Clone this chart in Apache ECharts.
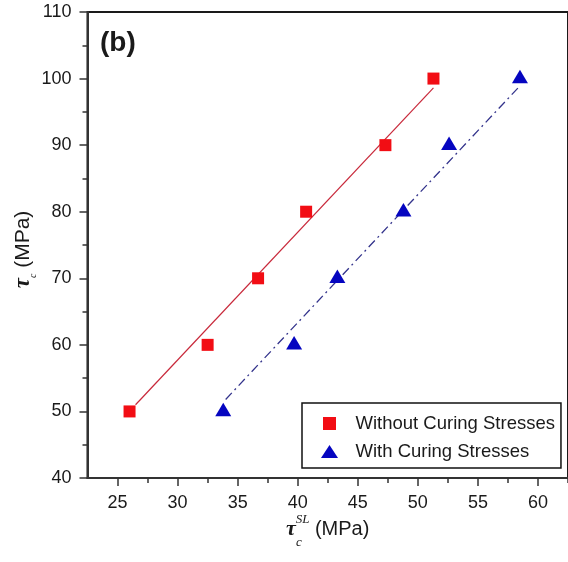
<!DOCTYPE html>
<html>
<head>
<meta charset="utf-8">
<script src="https://cdn.jsdelivr.net/npm/echarts@6/dist/echarts.min.js"></script>
<style>
  html, body { margin: 0; padding: 0; background: #fff; }
  #chart { width: 568px; height: 562px; }
</style>
</head>
<body>
<div id="chart"></div>
<script>
// Shear strength against single-lap shear strength
const shearLevels = [50, 60, 70, 80, 90, 100];

const withoutCuringX = [26.0, 32.5, 36.7, 40.7, 47.3, 51.3];
const withCuringX = [33.8, 39.7, 43.3, 48.8, 52.6, 58.5];

// end points of the two linear fits
const withoutFitX = [26.5, 51.3];
const withoutFitY = [51.0, 98.6];
const withFitX = [34.0, 58.5];
const withFitY = [51.8, 98.9];

const xMajorTicks = [25, 30, 35, 40, 45, 50, 55, 60];
const xMinorTicks = [27.5, 32.5, 37.5, 42.5, 47.5, 52.5, 57.5, 62.5];

const seriesNames = ['Without Curing Stresses', 'With Curing Stresses'];

const pairs = (xs, ys) => xs.map((x, i) => [x, ys[i]]);

const textColor = '#1a1a1a';
const sans = 'Liberation Sans, Arial, sans-serif';
const serif = 'Liberation Serif, Times New Roman, serif';

const chart = echarts.init(document.getElementById('chart'), null, { renderer: 'canvas' });

const xRange = { min: 22.5, max: 62.5 };

chart.setOption({
  animation: false,
  backgroundColor: '#fff',
  title: {
    text: '(b)',
    left: 95,
    top: 24,
    textStyle: { fontFamily: sans, fontSize: 28, fontWeight: 'bold', color: textColor }
  },
  grid: {
    left: 87, top: 12, right: 0, bottom: 84,
    show: true, borderColor: '#1a1a1a', borderWidth: 2, backgroundColor: 'transparent'
  },
  legend: {
    orient: 'vertical',
    left: 302,
    top: 403,
    padding: [11, 6, 7, 19],
    itemWidth: 42,
    itemHeight: 13,
    itemGap: 9,
    borderColor: '#111',
    borderWidth: 1.5,
    backgroundColor: '#fff',
    selectedMode: false,
    symbolKeepAspect: true,
    textStyle: { fontFamily: sans, fontSize: 18.5, lineHeight: 18, color: textColor },
    data: [
      { name: seriesNames[0], icon: 'path://M0,0L12,0L12,12L0,12Z' },
      { name: seriesNames[1], icon: 'path://M8.5,0L17,13L0,13Z' }
    ]
  },
  xAxis: [
    {
      type: 'value',
      min: xRange.min,
      max: xRange.max,
      position: 'bottom',
      axisLine: { show: true, lineStyle: { color: '#333', width: 2 } },
      axisTick: { show: true, inside: false, length: 8, customValues: xMajorTicks, lineStyle: { color: '#333', width: 1.5 } },
      axisLabel: { customValues: xMajorTicks, margin: 16, fontFamily: sans, fontSize: 18, color: textColor },
      splitLine: { show: false },
      name: '{tau|τ}{sub|c}{sup|SL}{txt| (MPa)}',
      nameLocation: 'middle',
      nameGap: 31,
      nameMoveOverlap: false,
      nameTextStyle: {
        fontFamily: sans, fontSize: 20, color: textColor, lineHeight: 40,
        rich: {
          tau: { fontFamily: serif, fontSize: 22, fontStyle: 'italic', fontWeight: 'bold', color: textColor, lineHeight: 40 },
          sub: { fontFamily: serif, fontSize: 13, fontStyle: 'italic', color: textColor, lineHeight: 13, verticalAlign: 'bottom' },
          sup: { fontFamily: serif, fontSize: 13, fontStyle: 'italic', color: textColor, lineHeight: 13, verticalAlign: 'top', padding: [4, 0, 0, -6] },
          txt: { fontFamily: sans, fontSize: 20, color: textColor, lineHeight: 40 }
        }
      }
    },
    {
      type: 'value',
      min: xRange.min,
      max: xRange.max,
      position: 'bottom',
      axisLine: { show: false },
      axisTick: { show: true, inside: false, length: 5, customValues: xMinorTicks, lineStyle: { color: '#333', width: 1.5 } },
      axisLabel: { show: false },
      splitLine: { show: false }
    }
  ],
  yAxis: {
    type: 'value',
    min: 40,
    max: 110,
    interval: 10,
    axisLine: { show: true, lineStyle: { color: '#333', width: 2 } },
    axisTick: { show: true, inside: false, length: 8, lineStyle: { color: '#333', width: 1.5 } },
    minorTick: { show: true, splitNumber: 2, length: 5, lineStyle: { color: '#333', width: 1.5 } },
    axisLabel: { margin: 16, fontFamily: sans, fontSize: 18, color: textColor },
    splitLine: { show: false },
    minorSplitLine: { show: false },
    name: '{tau|τ}{sub|c}{txt| (MPa)}',
    nameLocation: 'middle',
    nameGap: 49.5,
    nameMoveOverlap: false,
    nameTextStyle: {
      fontFamily: sans, fontSize: 21, color: textColor, lineHeight: 30, padding: [0, 9, 0, 0],
      rich: {
        tau: { fontFamily: serif, fontSize: 23, fontStyle: 'italic', fontWeight: 'bold', color: textColor, lineHeight: 30 },
        sub: { fontFamily: serif, fontSize: 10, fontStyle: 'italic', color: textColor, lineHeight: 10, verticalAlign: 'bottom' },
        txt: { fontFamily: sans, fontSize: 21, color: textColor, lineHeight: 30 }
      }
    }
  },
  series: [
    {
      name: 'fit-without',
      type: 'line',
      data: pairs(withoutFitX, withoutFitY),
      showSymbol: false,
      symbol: 'none',
      lineStyle: { color: '#c8283a', width: 1.2 },
      silent: true,
      z: 1
    },
    {
      name: 'fit-with',
      type: 'line',
      data: pairs(withFitX, withFitY),
      showSymbol: false,
      symbol: 'none',
      lineStyle: { color: '#34348c', width: 1.3, type: [9, 4, 2, 4] },
      silent: true,
      z: 1
    },
    {
      name: seriesNames[0],
      type: 'scatter',
      data: pairs(withoutCuringX, shearLevels),
      symbol: 'rect',
      symbolSize: 12,
      itemStyle: { color: '#f20d14', opacity: 1 },
      z: 3
    },
    {
      name: seriesNames[1],
      type: 'scatter',
      data: pairs(withCuringX, shearLevels),
      symbol: 'triangle',
      symbolSize: [16, 13.5],
      symbolOffset: [0, -2],
      itemStyle: { color: '#0505c0', opacity: 1 },
      z: 3
    }
  ]
});
</script>
</body>
</html>
